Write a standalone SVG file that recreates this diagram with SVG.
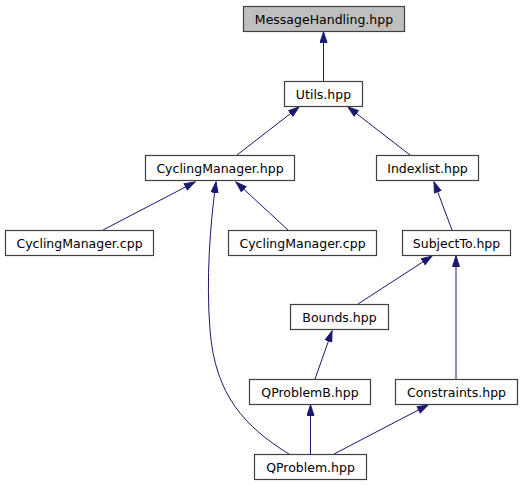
<svg xmlns="http://www.w3.org/2000/svg" width="525" height="485" viewBox="0 0 525 485">
<style>
.n rect{fill:#fff;stroke:#404040;stroke-width:1.2}
.n text{font-family:"DejaVu Sans",sans-serif;font-size:12.5px;fill:#000;text-anchor:middle}
.e{fill:none;stroke:#191970;stroke-width:1;marker-end:url(#a)}
</style>
<defs>
<marker id="a" markerUnits="userSpaceOnUse" markerWidth="12" markerHeight="9" refX="11" refY="4" orient="auto"><path d="M0.5,0.5 L11,4 L0.5,7.5 z" fill="#191970" stroke="#191970" stroke-width="1"/></marker>
</defs>
<rect width="525" height="485" fill="#fff"/>
<g id="edges">
<path class="e" d="M323.5,81 L323.5,32"/>
<path class="e" d="M237,155 L299,107"/>
<path class="e" d="M410,155 L348,107"/>
<path class="e" d="M103,230 L195,182"/>
<path class="e" d="M288,230 L236,182"/>
<path class="e" d="M289,454 C245,427 215,395 210,330 C206,280 210,225 216,182"/>
<path class="e" d="M452,230 L434,182"/>
<path class="e" d="M358,304 L432,256"/>
<path class="e" d="M456,379 L456,256"/>
<path class="e" d="M315,379 L332,331"/>
<path class="e" d="M310.5,454 L310.5,405"/>
<path class="e" d="M334,454 L428,405"/>
</g>
<g id="MessageHandling" class="n"><rect x="243.5" y="6.5" width="161" height="25" style="fill:#bfbfbf"/><text x="324" y="23.5">MessageHandling.hpp</text></g>
<g id="Utils" class="n"><rect x="284.5" y="81.5" width="78" height="25"/><text x="323.5" y="98.5">Utils.hpp</text></g>
<g id="CyclingManagerHpp" class="n"><rect x="145.5" y="155.5" width="149" height="25"/><text x="220" y="172.5">CyclingManager.hpp</text></g>
<g id="Indexlist" class="n"><rect x="376.5" y="155.5" width="102" height="25"/><text x="427.5" y="172.5">Indexlist.hpp</text></g>
<g id="CyclingManagerCpp1" class="n"><rect x="5.5" y="230.5" width="148" height="25"/><text x="79.5" y="247.5">CyclingManager.cpp</text></g>
<g id="CyclingManagerCpp2" class="n"><rect x="228.5" y="230.5" width="148" height="25"/><text x="302.5" y="247.5">CyclingManager.cpp</text></g>
<g id="SubjectTo" class="n"><rect x="402.5" y="230.5" width="108" height="25"/><text x="456.5" y="247.5">SubjectTo.hpp</text></g>
<g id="Bounds" class="n"><rect x="290.5" y="304.5" width="98" height="25"/><text x="339.5" y="321.5">Bounds.hpp</text></g>
<g id="QProblemB" class="n"><rect x="249.5" y="379.5" width="121" height="25"/><text x="310" y="396.5">QProblemB.hpp</text></g>
<g id="Constraints" class="n"><rect x="395.5" y="379.5" width="122" height="25"/><text x="456.5" y="396.5">Constraints.hpp</text></g>
<g id="QProblem" class="n"><rect x="254.5" y="454.5" width="112" height="25"/><text x="310.5" y="471.5">QProblem.hpp</text></g>
</svg>
